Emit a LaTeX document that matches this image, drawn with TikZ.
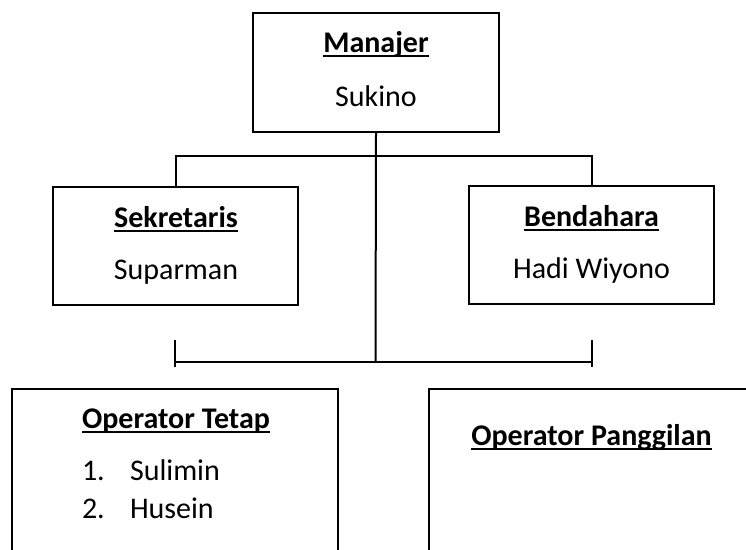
\documentclass[tikz,border=0pt]{standalone}
\usepackage{fontspec}
\setmainfont{Carlito}
\newcommand\myul[1]{\setbox0\hbox{#1}\rlap{\rule[-4.5pt]{\wd0}{2pt}}\box0}
\begin{document}
\begin{tikzpicture}[x=1pt,y=-1pt,line width=2pt,
  box/.style={draw,line width=2pt,rectangle,inner sep=0pt},
  ttl/.style={anchor=base,inner sep=0pt,font=\fontsize{30}{36}\selectfont\bfseries},
  nm/.style={anchor=base,inner sep=0pt,font=\fontsize{30}{36}\selectfont},
  itm/.style={anchor=base west,inner sep=0pt,font=\fontsize{30}{36}\selectfont}]
\clip (0,0) rectangle (746,549);
% boxes
\node[box,minimum width=246pt,minimum height=119pt] (man) at (376,72.5) {};
\node[box,minimum width=245pt,minimum height=118pt] (sek) at (175.5,246) {};
\node[box,minimum width=245pt,minimum height=118pt] (ben) at (591.5,245) {};
\node[box,minimum width=326pt,minimum height=220pt] (opt) at (175,499) {};
\node[box,minimum width=326pt,minimum height=220pt] (opp) at (591.5,499) {};
% texts
\node[ttl] (tman) at (376,52) {\myul{Manajer}};
\node[nm] (nman) at (376,106) {Sukino};
\node[ttl] (tsek) at (176,227) {\myul{Sekretaris}};
\node[nm] (nsek) at (176,279) {Suparman};
\node[ttl] (tben) at (591.5,226) {\myul{Bendahara}};
\node[nm] (nben) at (591.5,278) {Hadi Wiyono};
\node[ttl] (topt) at (176,428) {\myul{Operator Tetap}};
\node[itm] (n1) at (81,480) {1.};
\node[itm] (i1) at (129,480) {Sulimin};
\node[itm] (n2) at (81,518) {2.};
\node[itm] (i2) at (129,518) {Husein};
\node[ttl] (topp) at (591.5,445) {\myul{Operator Panggilan}};
% connectors
\coordinate (bar) at (375.5,362);
\coordinate (barL) at (175,362);
\coordinate (barR) at (592,362);
\coordinate (tLa) at (175,340);
\coordinate (tLb) at (175,367);
\coordinate (tRa) at (592,340);
\coordinate (tRb) at (592,367);
\draw (sek.north) -- ++(0,-30) -| (ben.north);
\draw (man.south) -- (bar);
\draw (barL) -- (barR);
\draw (tLa) -- (tLb);
\draw (tRa) -- (tRb);
\end{tikzpicture}
\end{document}
